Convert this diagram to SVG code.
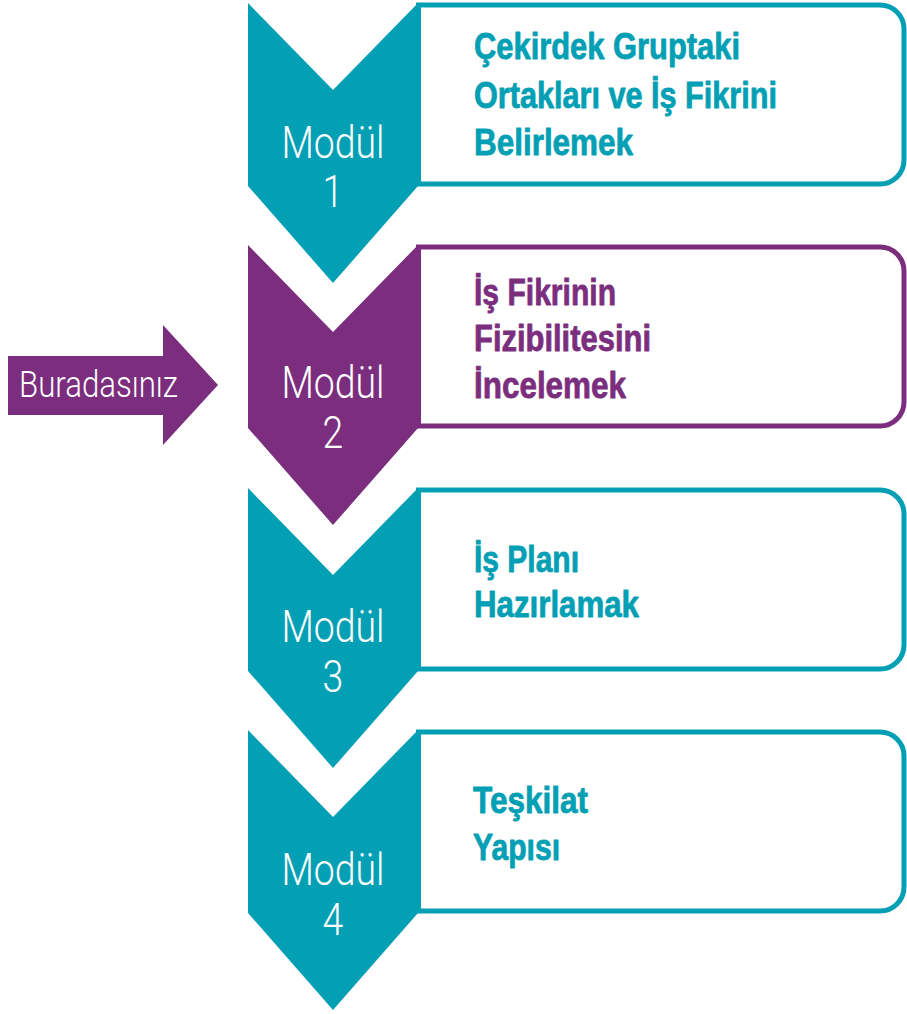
<svg xmlns="http://www.w3.org/2000/svg" width="907" height="1014" viewBox="0 0 907 1014">
  <style>
    .teal { fill: #039fb4; }
    .purple { fill: #7b2e7e; }
    .box { fill: #ffffff; stroke-width: 5; }
    .box.teal-s { stroke: #039fb4; }
    .box.purple-s { stroke: #7b2e7e; }
    .mod { font-family: Roboto, "Liberation Sans", sans-serif; font-weight: 300; font-size: 44px; fill: #ffffff; text-anchor: middle; }
    .title { font-family: "Liberation Sans", Arial, sans-serif; font-weight: 700; font-size: 37px; stroke-width: 0.8px; stroke-linejoin: round; }
    .title.t { fill: #039fb4; stroke: #039fb4; }
    .title.p { fill: #7b2e7e; stroke: #7b2e7e; }
    .here { font-family: Roboto, "Liberation Sans", sans-serif; font-weight: 300; font-size: 36px; fill: #ffffff; }
  </style>
  <defs>
    <!-- downward chevron, 170 wide, notched top -->
    <path id="chev" d="M248,3 L333,90 L418,3 L418,186 L333,283 L248,186 Z"/>
    <!-- text panel: square on the left, rounded on the right -->
    <path id="panel" d="M418.5,5 H880 A24,24 0 0 1 904,29 V160 A24,24 0 0 1 880,184 H418.5 Z"/>
  </defs>

  <!-- "you are here" pointer -->
  <g id="pointer">
    <polygon class="purple" points="8,356 163,356 163,325 218,385 163,445 163,415 8,415"/>
    <text class="here" x="19" y="397" textLength="159" lengthAdjust="spacingAndGlyphs">Buradasınız</text>
  </g>

  <!-- Module 1 -->
  <g id="modul1">
    <use href="#panel" class="box teal-s"/>
    <use href="#chev" class="teal"/>
    <g transform="translate(333,0) scale(0.85,1)">
      <text class="mod" x="0" y="158">Modül</text>
      <text class="mod" x="0" y="207">1</text>
    </g>
    <text class="title t" x="474" y="59" textLength="266" lengthAdjust="spacingAndGlyphs">Çekirdek Gruptaki</text>
    <text class="title t" x="474" y="108" textLength="303" lengthAdjust="spacingAndGlyphs">Ortakları ve İş Fikrini</text>
    <text class="title t" x="474" y="155" textLength="159" lengthAdjust="spacingAndGlyphs">Belirlemek</text>
  </g>

  <!-- Module 2 (current) -->
  <g id="modul2">
    <use href="#panel" class="box purple-s" transform="translate(0,242)"/>
    <use href="#chev" class="purple" transform="translate(0,242)"/>
    <g transform="translate(333,0) scale(0.85,1)">
      <text class="mod" x="0" y="398">Modül</text>
      <text class="mod" x="0" y="448">2</text>
    </g>
    <text class="title p" x="474" y="305" textLength="142" lengthAdjust="spacingAndGlyphs">İş Fikrinin</text>
    <text class="title p" x="474" y="351" textLength="177" lengthAdjust="spacingAndGlyphs">Fizibilitesini</text>
    <text class="title p" x="474" y="398" textLength="152" lengthAdjust="spacingAndGlyphs">İncelemek</text>
  </g>

  <!-- Module 3 -->
  <g id="modul3">
    <use href="#panel" class="box teal-s" transform="translate(0,485)"/>
    <use href="#chev" class="teal" transform="translate(0,485)"/>
    <g transform="translate(333,0) scale(0.85,1)">
      <text class="mod" x="0" y="642">Modül</text>
      <text class="mod" x="0" y="692">3</text>
    </g>
    <text class="title t" x="474" y="572" textLength="105" lengthAdjust="spacingAndGlyphs">İş Planı</text>
    <text class="title t" x="474" y="617" textLength="165" lengthAdjust="spacingAndGlyphs">Hazırlamak</text>
  </g>

  <!-- Module 4 -->
  <g id="modul4">
    <use href="#panel" class="box teal-s" transform="translate(0,727)"/>
    <use href="#chev" class="teal" transform="translate(0,727)"/>
    <g transform="translate(333,0) scale(0.85,1)">
      <text class="mod" x="0" y="885">Modül</text>
      <text class="mod" x="0" y="935">4</text>
    </g>
    <text class="title t" x="473" y="813" textLength="115" lengthAdjust="spacingAndGlyphs">Teşkilat</text>
    <text class="title t" x="473" y="860" textLength="87" lengthAdjust="spacingAndGlyphs">Yapısı</text>
  </g>

  <!-- no separate connectors: the chevrons themselves carry the flow -->
  <g id="connectors"/>
</svg>
